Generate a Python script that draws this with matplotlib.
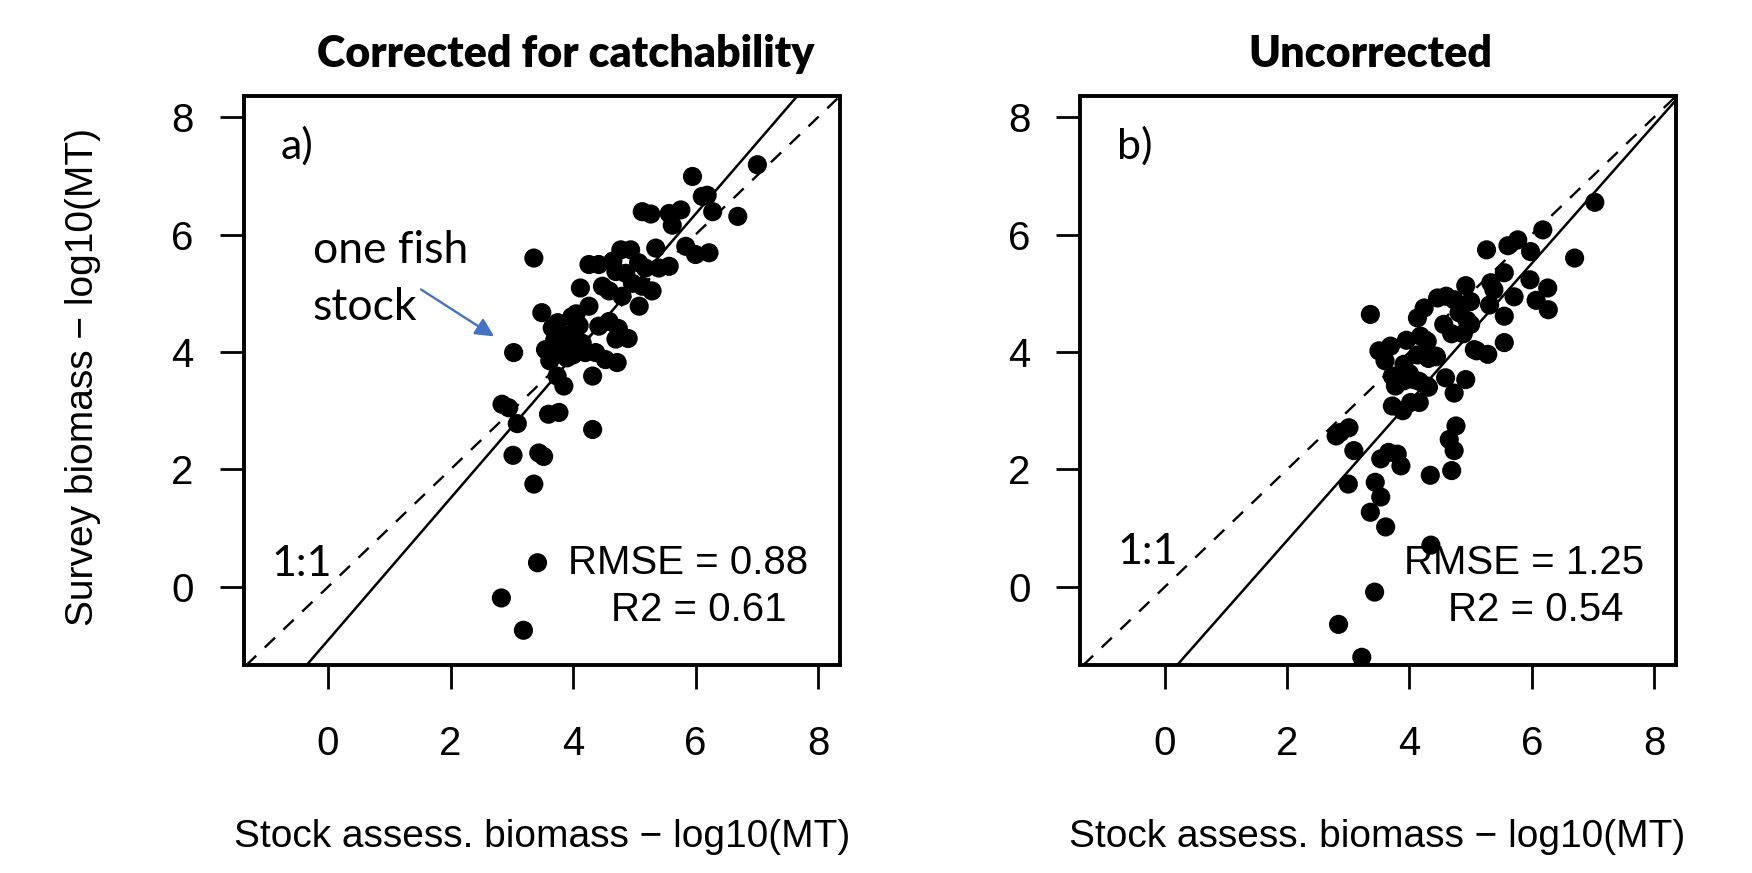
import numpy as np
import matplotlib.pyplot as plt

# stock assessment biomass (x) vs survey biomass (y), log10(MT)
xa = [7.01, 5.95, 6.11, 6.19, 6.28, 6.69, 5.13, 5.27, 5.57, 5.76, 5.62, 5.35, 5.84, 6.00, 6.22,
      4.78, 4.94, 4.26, 4.42, 5.07, 5.18, 5.40, 5.57, 4.70, 4.86, 4.12, 4.48, 4.59, 4.80, 4.97,
      5.13, 5.29, 4.26, 5.08, 3.49, 3.36, 4.74, 4.70, 4.90, 4.42, 3.66, 3.82, 3.55, 3.88, 4.04,
      4.20, 4.37, 4.53, 4.72, 3.03, 4.32, 3.74, 3.85, 2.84, 2.95, 3.09, 3.60, 3.77, 4.32, 3.02,
      3.44, 3.52, 3.36, 3.42, 2.83, 3.19,
      3.70, 3.78, 3.95, 3.90, 4.00, 3.62, 4.10, 3.75, 4.05, 4.59, 4.65, 3.98, 4.15]
ya = [7.19, 6.99, 6.65, 6.67, 6.39, 6.31, 6.39, 6.35, 6.36, 6.42, 6.16, 5.77, 5.80, 5.66, 5.69,
      5.74, 5.74, 5.49, 5.49, 5.52, 5.43, 5.43, 5.46, 5.37, 5.34, 5.09, 5.12, 5.04, 4.95, 5.17,
      5.12, 5.04, 4.78, 4.78, 4.67, 5.60, 4.40, 4.22, 4.23, 4.44, 4.41, 4.30, 4.04, 4.10, 4.21,
      3.99, 3.99, 3.87, 3.82, 3.99, 3.59, 3.59, 3.42, 3.11, 3.05, 2.78, 2.94, 2.97, 2.68, 2.24,
      2.28, 2.22, 1.75, 0.41, -0.19, -0.74,
      4.20, 4.05, 4.30, 3.90, 3.95, 3.85, 4.45, 4.50, 4.65, 4.52, 5.55, 4.60, 4.15]

xb = [7.03, 6.18, 6.70, 5.26, 5.61, 5.77, 5.98, 5.33, 5.55, 4.92, 5.97, 6.26, 6.27, 6.07, 5.71,
      5.38, 4.46, 4.73, 5.00, 4.24, 4.13, 5.31, 5.55, 3.36, 4.81, 4.94, 4.56, 4.69, 4.88, 5.00,
      4.18, 4.29, 5.55, 5.06, 5.28, 3.50, 3.69, 4.13, 4.31, 4.44, 3.91, 4.00, 3.84, 4.43, 3.72,
      3.91, 3.77, 4.07, 4.29, 4.59, 4.92, 4.73, 3.72, 3.89, 4.02, 4.16, 3.01, 2.87, 2.80, 3.09,
      4.76, 4.65, 4.73, 3.53, 3.66, 3.80, 3.86, 3.00, 3.44, 3.53, 3.36, 3.61, 4.34, 4.69, 4.35,
      3.43, 2.84, 3.22, 4.16, 4.31, 5.10, 4.60, 3.60, 3.95]
yb = [6.55, 6.08, 5.60, 5.74, 5.81, 5.91, 5.71, 5.18, 5.35, 5.13, 5.23, 5.09, 4.72, 4.88, 4.94,
      5.06, 4.92, 4.89, 4.86, 4.75, 4.58, 4.80, 4.61, 4.64, 4.67, 4.54, 4.47, 4.31, 4.31, 4.47,
      4.27, 4.18, 4.16, 4.04, 3.96, 4.02, 4.10, 3.95, 3.89, 3.92, 3.79, 3.63, 3.59, 3.93, 3.59,
      3.51, 3.42, 3.53, 3.42, 3.56, 3.53, 3.30, 3.08, 3.00, 3.14, 3.14, 2.71, 2.63, 2.57, 2.32,
      2.74, 2.51, 2.32, 2.18, 2.29, 2.26, 2.06, 1.75, 1.78, 1.53, 1.27, 1.02, 1.90, 1.98, 0.71,
      -0.09, -0.64, -1.20, 3.50, 3.40, 4.02, 4.95, 3.85, 4.20]

# fitted lines (slope, intercept) and stats
fit_a = (1.21, -0.91)
fit_b = (1.18, -1.57)
rmse_a, r2_a = 0.88, 0.61
rmse_b, r2_b = 1.25, 0.54

ticks = [0, 2, 4, 6, 8]
titles = ["Corrected for catchability", "Uncorrected"]
xlab = "Stock assess. biomass \u2212 log10(MT)"
ylab = "Survey biomass \u2212 log10(MT)"

plt.rcParams['font.family'] = ['Liberation Sans', 'DejaVu Sans']
CAL = ['Lato', 'DejaVu Sans']

fig = plt.figure(figsize=(17.52, 8.73), dpi=100)
ax_a = fig.add_axes([0.1390, 0.2377, 0.3405, 0.6523])
ax_b = fig.add_axes([0.6167, 0.2377, 0.3400, 0.6523])


def draw_panel(ax, x, y, fit, rmse, r2, tag, one_x, one_y):
    ax.scatter(x, y, s=190, c='black', edgecolors='none', zorder=3)
    ax.axline((0, 0), slope=1, color='black', lw=1.7, dashes=(6, 5), zorder=2)
    ax.axline((0, fit[1]), slope=fit[0], color='black', lw=1.8, zorder=2)
    ax.set_xlim(-1.38, 8.36)
    ax.set_ylim(-1.34, 8.36)
    ax.set_xticks(ticks)
    ax.set_yticks(ticks)
    ax.tick_params(axis='both', length=17, width=2.0, labelsize=29, direction='out')
    ax.tick_params(axis='x', pad=26)
    ax.tick_params(axis='y', pad=19)
    for sp in ax.spines.values():
        sp.set_linewidth(2.8)
    ax.text(-0.78, 7.30, tag, family=CAL, fontsize=31, va='baseline', ha='left')
    ax.text(one_x, one_y, "1:1", family=CAL, fontsize=31, va='baseline', ha='left')
    ax.text(5.88, 0.41, f"RMSE = {rmse:.2f}", fontsize=29, ha='center', va='center')
    ax.text(6.06, -0.40, f"R2 = {r2:.2f}", fontsize=29, ha='center', va='center')


draw_panel(ax_a, xa, ya, fit_a, rmse_a, r2_a, "a)", -0.93, 0.18)
draw_panel(ax_b, xb, yb, fit_b, rmse_b, r2_b, "b)", -0.78, 0.39)

# annotation in panel a
ax_a.text(-0.25, 5.51, "one fish", family=CAL, fontsize=32, va='baseline', ha='left')
ax_a.text(-0.25, 4.55, "stock", family=CAL, fontsize=32, va='baseline', ha='left')
ax_a.annotate('', xy=(2.75, 4.24), xytext=(1.48, 5.09),
              arrowprops=dict(arrowstyle='-|>', color='#4472C4', lw=1.7, mutation_scale=28))

fig.text(0.3230, 0.9236, titles[0], family=CAL, fontweight='heavy', fontsize=31,
         ha='center', va='baseline')
fig.text(0.7823, 0.9236, titles[1], family=CAL, fontweight='heavy', fontsize=31,
         ha='center', va='baseline')

fig.text(0.3093, 0.0412, xlab, fontsize=28, ha='center', va='center')
fig.text(0.7862, 0.0412, xlab, fontsize=28, ha='center', va='center')
fig.text(0.0474, 0.568, ylab, fontsize=28, ha='center', va='center', rotation=90)

fig.savefig("out.png", dpi=100)
